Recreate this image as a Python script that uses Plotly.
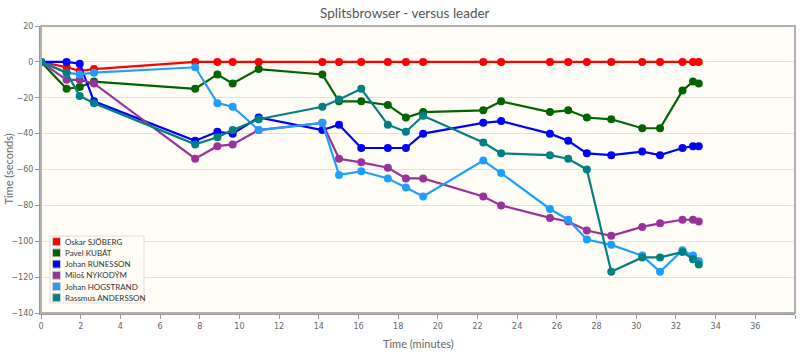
import plotly.graph_objects as go

times = [0, 1.29, 1.95, 2.67, 7.77, 8.89, 9.66, 10.97, 14.18, 15.02, 16.14, 17.48,
         18.39, 19.26, 22.29, 23.19, 25.65, 26.57, 27.51, 28.74, 30.30, 31.20,
         32.33, 32.86, 33.15]

names = ["Oskar SJÖBERG", "Pavel KUBÁT", "Johan RUNESSON", "Miloš NYKODÝM",
         "Johan HOGSTRAND", "Rassmus ANDERSSON"]
colors = ["#ff0000", "#006400", "#0000ff", "#993399", "#1e9fff", "#008080"]

oskar = [0, -3, -5, -4, 0, 0, 0, 0, 0, 0, 0, 0, 0, 0, 0, 0, 0, 0, 0, 0, 0, 0, 0, 0, 0]
pavel = [0, -15, -14, -11, -15, -7, -12, -4, -7, -22, -22, -24, -31, -28, -27, -22,
         -28, -27, -31, -32, -37, -37, -16, -11, -12]
runesson = [0, 0, -1, -22, -44, -39, -40, -31, -38, -35, -48, -48, -48, -40, -34, -33,
            -40, -44, -51, -52, -50, -52, -48, -47, -47]
milos = [0, -10, -10, -12, -54, -47, -46, -38, -34, -54, -56, -59, -65, -65, -75, -80,
         -87, -89, -94, -97, -92, -90, -88, -88, -89]
hogstrand = [0, -6, -7, -6, -3, -23, -25, -38, -34, -63, -61, -65, -70, -75, -55, -62,
             -82, -88, -99, -102, -108, -117, -105, -108, -111]
rassmus = [0, -6, -19, -23, -46, -42, -38, -32, -25, -21, -15, -35, -39, -30, -45, -51,
           -52, -54, -60, -117, -109, -109, -106, -110, -113]
series = [oskar, pavel, runesson, milos, hogstrand, rassmus]

x_ticks = list(range(0, 39, 2))
y_ticks = list(range(-140, 21, 20))

FONT = "DejaVu Sans"
W, H = 800, 357
ML, MR, MT, MB = 41, 5, 26, 44
PW, PH = W - ML - MR, H - MT - MB


def px(p):
    return (p - ML) / PW


def py(p):
    return (H - MB - p) / PH


fig = go.Figure()

for name, col, vals in zip(names, colors, series):
    fig.add_trace(go.Scatter(
        x=times, y=vals, mode="lines+markers", name=name,
        line=dict(color=col, width=2.2),
        marker=dict(color=col, size=8),
        showlegend=False, hoverinfo="x+y+name"))

# plot frame
fig.add_shape(type="rect", xref="paper", yref="paper", x0=0, x1=1, y0=0, y1=1,
              line=dict(color="#b0b0b0", width=2), layer="above")

# manual legend
fig.add_shape(type="rect", xref="paper", yref="paper",
              x0=px(50), x1=px(144), y0=py(303), y1=py(236),
              line=dict(color="#dddddd", width=1), fillcolor="#fffdf6", layer="above")
for i, (name, col) in enumerate(zip(names, colors)):
    yc = 241.7 + i * 11.2
    fig.add_shape(type="rect", xref="paper", yref="paper",
                  x0=px(52.5), x1=px(60.5), y0=py(yc + 4), y1=py(yc - 4),
                  line=dict(color="#cccccc", width=1), fillcolor=col, layer="above")
    fig.add_annotation(xref="paper", yref="paper", x=px(62.5), y=py(yc),
                       text=name, showarrow=False, xanchor="left", yanchor="middle",
                       font=dict(family="Lato", size=8, color="#333333"))

# axis titles
fig.add_annotation(xref="paper", yref="paper", x=0.5, y=py(343), text="Time (minutes)",
                   showarrow=False, xanchor="center", yanchor="middle",
                   font=dict(family="Lato", size=11, color="#666666"))
fig.add_annotation(xref="paper", yref="paper", x=px(8), y=0.5, text="Time (seconds)",
                   showarrow=False, textangle=-90, xanchor="center", yanchor="middle",
                   font=dict(family="Lato", size=11, color="#666666"))

fig.update_layout(
    width=W, height=H,
    margin=dict(l=ML, r=MR, t=MT, b=MB, autoexpand=False),
    paper_bgcolor="white",
    plot_bgcolor="#fffdf6",
    title=dict(text="Splitsbrowser - versus leader", x=0.506, xref="container",
               y=0.975, yref="container", yanchor="top",
               font=dict(family="Lato", size=13.5, color="#555555")),
    xaxis=dict(range=[0, 38], tickvals=x_ticks, showgrid=False, zeroline=False,
               ticks="outside", ticklen=4, tickcolor="#999999", automargin=False,
               tickfont=dict(family=FONT, size=8, color="#666666"),
               showline=True, linecolor="#999999", linewidth=2),
    yaxis=dict(range=[-140, 20], tickvals=y_ticks, showgrid=True, gridcolor="#e2e2e2",
               gridwidth=1, zeroline=False, automargin=False,
               ticks="outside", ticklen=4, tickcolor="#999999",
               tickfont=dict(family=FONT, size=8, color="#666666"),
               showline=True, linecolor="#999999", linewidth=2),
)

fig.write_html("out.html", config={"displayModeBar": False},
               post_script="document.body.style.margin='0';document.body.style.overflow='hidden';")
